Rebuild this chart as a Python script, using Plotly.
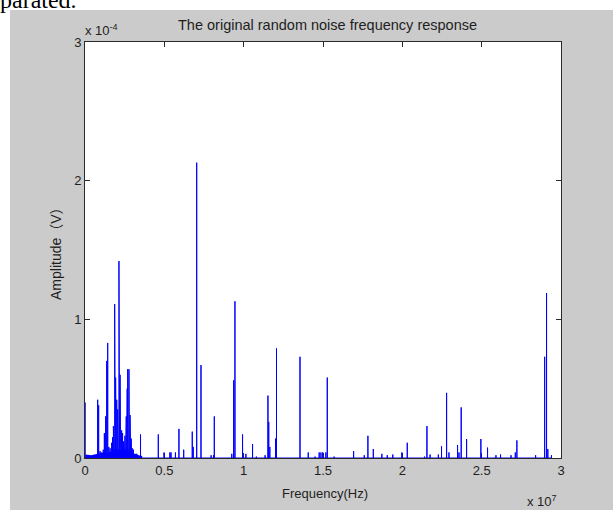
import plotly.graph_objects as go

# Spike frequencies (MHz) and amplitudes (x1e-4 V)
spike_freq_mhz = [
    0.00, 0.80, 0.86, 0.95, 1.05, 1.15, 1.22, 1.30, 1.37, 1.43, 1.50, 1.58,
    1.68, 1.74, 1.79, 1.83, 1.87, 1.91, 1.93, 1.96, 2.00, 2.03, 2.06, 2.10,
    2.14, 2.18, 2.21, 2.25, 2.28, 2.31, 2.34, 2.37, 2.41, 2.44, 2.48, 2.52,
    2.56, 2.60, 2.63, 2.66, 2.69, 2.73, 2.77, 2.80, 2.84, 2.88, 2.91, 2.94,
    2.98, 3.05, 3.15, 3.26, 3.50, 4.62, 4.98, 5.35, 5.42, 5.70, 5.92, 6.22,
    6.76, 6.82, 7.04, 7.31, 7.95, 8.10, 8.15, 9.25, 9.37, 9.45, 9.93, 10.14,
    10.56, 10.80, 11.35, 11.53, 11.58, 11.65, 12.01, 12.07, 13.55, 14.07,
    14.50, 14.76, 14.87, 14.98, 15.18, 15.27, 15.70, 16.93, 17.60, 17.83,
    18.17, 18.71, 19.05, 19.40, 19.97, 20.31, 21.40, 21.55, 21.75, 22.27,
    22.47, 22.79, 22.94, 23.48, 23.57, 23.71, 24.05, 24.95, 25.37, 25.90,
    26.19, 26.85, 27.12, 27.22, 28.40, 28.97, 29.09, 29.17, 29.40,
]
spike_amp_e4 = [
    0.40, 0.42, 0.38, 0.05, 0.04, 0.06, 0.18, 0.30, 0.70, 0.83, 0.08, 0.07,
    0.11, 0.15, 0.23, 0.12, 1.11, 0.49, 0.58, 0.30, 0.42, 0.20, 0.35, 0.25,
    1.42, 0.52, 0.60, 0.35, 0.15, 0.20, 0.10, 0.18, 0.08, 0.12, 0.13, 0.16,
    0.23, 0.30, 0.42, 0.50, 0.64, 0.56, 0.64, 0.40, 0.31, 0.23, 0.14, 0.11,
    0.07, 0.06, 0.03, 0.03, 0.17, 0.17, 0.04, 0.04, 0.04, 0.04, 0.21, 0.06,
    0.19, 0.08, 2.13, 0.67, 0.02, 0.02, 0.30, 0.03, 0.56, 1.13, 0.17, 0.03,
    0.10, 0.01, 0.02, 0.45, 0.26, 0.08, 0.14, 0.79, 0.73, 0.04,
    0.01, 0.04, 0.04, 0.04, 0.04, 0.58, 0.01, 0.05, 0.02, 0.16,
    0.065, 0.03, 0.02, 0.025, 0.04, 0.11, 0.01, 0.23, 0.025, 0.025,
    0.084, 0.47, 0.04, 0.094, 0.04, 0.365, 0.137, 0.137, 0.075, 0.02,
    0.025, 0.02, 0.04, 0.127, 0.02, 0.73, 1.19, 0.065, 0.02,
]

# Low-frequency noise floor (MHz, x1e-4 V)
floor_freq_mhz = [0.02, 0.2, 0.4, 0.6, 0.8, 1.0, 1.2, 1.4, 1.6, 1.8, 2.0,
                  2.2, 2.4, 2.6, 2.8, 3.0, 3.2, 3.4, 3.6]
floor_amp_e4 = [0.02, 0.015, 0.015, 0.02, 0.025, 0.03, 0.035, 0.03, 0.04, 0.05,
                0.06, 0.05, 0.05, 0.06, 0.05, 0.03, 0.02, 0.015, 0.01]

x_tickvals = [0, 5e6, 1e7, 1.5e7, 2e7, 2.5e7, 3e7]
x_ticktext = ["0", "0.5", "1", "1.5", "2", "2.5", "3"]
y_tickvals = [0, 1e-4, 2e-4, 3e-4]
y_ticktext = ["0", "1", "2", "3"]

# stem line: baseline -> peak -> baseline for each spike
sx, sy = [], []
for f, a in sorted(zip(spike_freq_mhz, spike_amp_e4)):
    fh = f * 1e6
    sx += [fh, fh, fh]
    sy += [0.0, a * 1e-4, 0.0]

fig = go.Figure()
fig.add_trace(go.Scatter(x=[f * 1e6 for f in floor_freq_mhz],
                         y=[a * 1e-4 for a in floor_amp_e4],
                         mode="lines", line=dict(color="#0000ff", width=1.5),
                         fill="tozeroy", fillcolor="#0000ff",
                         hoverinfo="skip", showlegend=False))
fig.add_trace(go.Scatter(x=sx, y=sy, mode="lines",
                         line=dict(color="#0000ff", width=1),
                         showlegend=False))

W, H = 613, 514
L, R, T, B = 85, 52, 42, 56
pw, ph = W - L - R, H - T - B


def px(x):
    return (x - L) / pw


def py(y):
    return (H - B - y) / ph


font = "Liberation Sans, Arial, sans-serif"
ink = "#1e1e1e"
gray = "#cbcbcb"

axis_common = dict(showline=True, linecolor="#2a2a2a", linewidth=1, mirror="allticks",
                   ticks="inside", ticklen=5, tickcolor="#2a2a2a", showgrid=False,
                   zeroline=False, tickfont=dict(family=font, size=13, color=ink),
                   layer="below traces")

fig.update_layout(
    width=W, height=H,
    margin=dict(l=L, r=R, t=T, b=B),
    paper_bgcolor=gray, plot_bgcolor="white",
    xaxis=dict(range=[0, 3e7], tickvals=x_tickvals, ticktext=x_ticktext, **axis_common),
    yaxis=dict(range=[0, 3e-4], tickvals=y_tickvals, ticktext=y_ticktext, **axis_common),
    shapes=[
        dict(type="rect", xref="paper", yref="paper", x0=-0.3, x1=1.3, y0=py(10), y1=1.3,
             fillcolor="white", line=dict(width=0)),
        dict(type="rect", xref="paper", yref="paper", x0=-0.3, x1=px(10), y0=-0.3, y1=1.3,
             fillcolor="white", line=dict(width=0)),
        dict(type="rect", xref="paper", yref="paper", x0=-0.3, x1=1.3, y0=-0.3, y1=py(510),
             fillcolor="white", line=dict(width=0)),
    ],
    annotations=[
        dict(text="The original random noise frequency response", xref="paper", yref="paper",
             x=px(327), y=py(25), xanchor="center", yanchor="middle", showarrow=False,
             font=dict(family=font, size=14.5, color=ink)),
        dict(text="x 10<sup>-4</sup>", xref="paper", yref="paper",
             x=px(83), y=py(30), xanchor="left", yanchor="middle", showarrow=False,
             font=dict(family=font, size=13, color=ink)),
        dict(text="x 10<sup>7</sup>", xref="paper", yref="paper",
             x=px(525), y=py(501), xanchor="left", yanchor="middle", showarrow=False,
             font=dict(family=font, size=13, color=ink)),
        dict(text="Frequency(Hz)", xref="paper", yref="paper",
             x=px(325), y=py(494), xanchor="center", yanchor="middle", showarrow=False,
             font=dict(family=font, size=13, color=ink)),
        dict(text="Amplitude（V）", xref="paper", yref="paper", textangle=-90,
             x=px(56), y=py(250), xanchor="center", yanchor="middle", showarrow=False,
             font=dict(family="Liberation Sans, Noto Sans CJK SC, sans-serif", size=14, color=ink)),
        dict(text="parated.", xref="paper", yref="paper",
             x=px(-2), y=py(15), xanchor="left", yanchor="bottom", showarrow=False,
             font=dict(family="Liberation Serif, Times New Roman, serif", size=24, color="black")),
    ],
)

fig.write_html("out.html", config={"displayModeBar": False},
               post_script="document.body.style.margin='0';")
